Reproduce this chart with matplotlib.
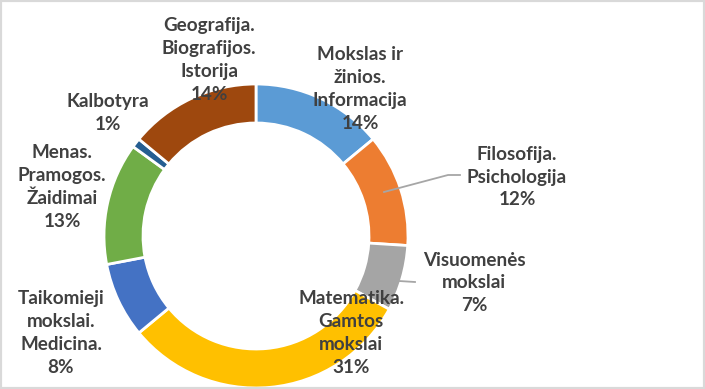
import matplotlib
matplotlib.use("Agg")
import matplotlib.pyplot as plt
from matplotlib.patches import Rectangle

# data, clockwise from 12 o'clock
categories = ["Mokslas ir\nžinios.\nInformacija", "Filosofija.\nPsichologija",
              "Visuomenės\nmokslai", "Matematika.\nGamtos\nmokslai",
              "Taikomieji\nmokslai.\nMedicina.", "Menas.\nPramogos.\nŽaidimai",
              "Kalbotyra", "Geografija.\nBiografijos.\nIstorija"]
shares = [14, 12, 7, 31, 8, 13, 1, 14]
colors = ["#5B9BD5", "#ED7D31", "#A5A5A5", "#FFC000",
          "#4472C4", "#70AD47", "#255E91", "#9E480E"]

# label block centres (pixel coords from top-left)
label_pos = [(360, 89), (517, 177), (474, 283), (351, 333),
             (61, 333), (62, 187), (108, 113), (209, 60)]

W, H = 705, 389
fig = plt.figure(figsize=(W / 100, H / 100), dpi=100)
ax = fig.add_axes([0, 0, 1, 1])

cx, cy, R = 256, H - 236, 152
ax.pie(shares, colors=colors, startangle=90, counterclock=False,
       center=(cx, cy), radius=R, frame=True,
       wedgeprops=dict(width=39, edgecolor="white", linewidth=2))
ax.set_xlim(0, W)
ax.set_ylim(0, H)
ax.set_aspect("auto")
ax.axis("off")

# leader lines
ax.plot([384, 448, 460], [H - 192, H - 175, H - 175], color="#A6A6A6", lw=1.3, zorder=4)
ax.plot([399, 415], [H - 281, H - 282], color="#A6A6A6", lw=1.3, zorder=4)

for name, val, (x, y) in zip(categories, shares, label_pos):
    ax.text(x, H - y, f"{name}\n{val}%", ha="center", va="center",
            fontsize=13.6, fontweight="bold", color="#404040",
            family=["Lato", "DejaVu Sans"], linespacing=1.42, zorder=5)

fig.patches.append(Rectangle((0, 0), 1, 1, transform=fig.transFigure,
                             fill=False, edgecolor="#D9D9D9", linewidth=3))

fig.savefig("out.png", dpi=100)
